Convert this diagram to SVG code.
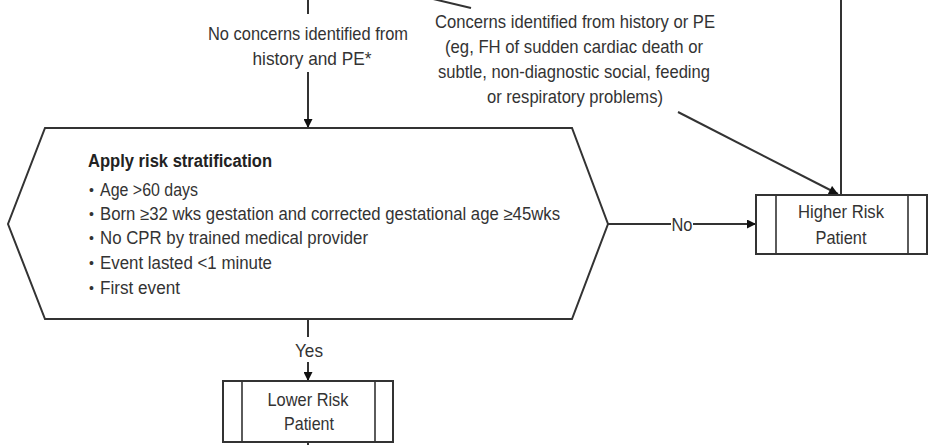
<svg xmlns="http://www.w3.org/2000/svg" width="930" height="445" viewBox="0 0 930 445">
  <style>
    .bg { fill: #ffffff; }
    .shape { fill: #ffffff; stroke: #333333; stroke-width: 2; }
    .inner { stroke: #333333; stroke-width: 1.6; fill: none; }
    .wire { stroke: #333333; stroke-width: 2; fill: none; }
    .txt { font-family: "Liberation Sans", Arial, sans-serif; font-size: 19px; fill: #333333; }
    .mid { text-anchor: middle; }
    .list { font-family: "Liberation Sans", Arial, sans-serif; font-size: 17.5px; fill: #333333; }
    .dot { font-family: "Liberation Sans", Arial, sans-serif; font-size: 14px; fill: #333333; }
    .title { font-weight: bold; fill: #222222; }
  </style>
  <defs>
    <marker id="arrow" viewBox="0 0 10 10" refX="10" refY="5" markerWidth="10" markerHeight="9" markerUnits="userSpaceOnUse" orient="auto">
      <path d="M0,0 L10,5 L0,10 z" fill="#111111"/>
    </marker>
  </defs>

  <rect class="bg" x="0" y="0" width="930" height="445"/>

  <!-- connectors and their labels -->
  <g id="connectors">
    <!-- incoming path: no concerns -->
    <line class="wire" x1="308" y1="0" x2="308" y2="14"/>
    <line class="wire" x1="308" y1="72" x2="308" y2="128" marker-end="url(#arrow)"/>
    <text class="txt mid" x="308" y="40" textLength="200" lengthAdjust="spacingAndGlyphs">No concerns identified from</text>
    <text class="txt mid" x="312" y="65" textLength="119" lengthAdjust="spacingAndGlyphs">history and PE*</text>

    <!-- incoming path: concerns identified -->
    <line class="wire" x1="429" y1="-2" x2="471" y2="8"/>
    <line class="wire" x1="678" y1="112" x2="838" y2="194" marker-end="url(#arrow)"/>
    <text class="txt mid" x="575" y="28" textLength="280" lengthAdjust="spacingAndGlyphs">Concerns identified from history or PE</text>
    <text class="txt mid" x="574" y="53" textLength="258" lengthAdjust="spacingAndGlyphs">(eg, FH of sudden cardiac death or</text>
    <text class="txt mid" x="574" y="78" textLength="272" lengthAdjust="spacingAndGlyphs">subtle, non-diagnostic social, feeding</text>
    <text class="txt mid" x="575" y="103" textLength="176" lengthAdjust="spacingAndGlyphs">or respiratory problems)</text>

    <!-- vertical line down the right side into Higher Risk -->
    <line class="wire" x1="841" y1="0" x2="841" y2="195"/>

    <!-- No branch -->
    <line class="wire" x1="608" y1="224" x2="671" y2="224"/>
    <line class="wire" x1="693" y1="224" x2="756" y2="224" marker-end="url(#arrow)"/>
    <text class="txt mid" x="682" y="231" textLength="21" lengthAdjust="spacingAndGlyphs">No</text>

    <!-- Yes branch -->
    <line class="wire" x1="308" y1="319" x2="308" y2="337"/>
    <line class="wire" x1="308" y1="362" x2="308" y2="381" marker-end="url(#arrow)"/>
    <text class="txt mid" x="309" y="357" textLength="28" lengthAdjust="spacingAndGlyphs">Yes</text>

    <!-- continuation below Lower Risk -->
    <line class="wire" x1="308" y1="442" x2="308" y2="446"/>
  </g>

  <!-- decision: risk stratification -->
  <g id="risk-stratification">
    <polygon class="shape" points="45,128 572,128 608,224 572,319 45,319 8,224"/>
    <text class="list title" x="88" y="167" textLength="184" lengthAdjust="spacingAndGlyphs">Apply risk stratification</text>
    <text class="dot" x="89" y="195">•</text>
    <text class="list" x="100" y="196" textLength="98" lengthAdjust="spacingAndGlyphs">Age &gt;60 days</text>
    <text class="dot" x="89" y="219">•</text>
    <text class="list" x="100" y="220" textLength="460" lengthAdjust="spacingAndGlyphs">Born ≥32 wks gestation and corrected gestational age ≥45wks</text>
    <text class="dot" x="89" y="243">•</text>
    <text class="list" x="100" y="244" textLength="268" lengthAdjust="spacingAndGlyphs">No CPR by trained medical provider</text>
    <text class="dot" x="89" y="268">•</text>
    <text class="list" x="100" y="269" textLength="172" lengthAdjust="spacingAndGlyphs">Event lasted &lt;1 minute</text>
    <text class="dot" x="89" y="293">•</text>
    <text class="list" x="100" y="294" textLength="80" lengthAdjust="spacingAndGlyphs">First event</text>
  </g>

  <!-- outcome: higher risk -->
  <g id="higher-risk">
    <rect class="shape" x="756" y="195" width="171" height="59"/>
    <line class="inner" x1="776" y1="195" x2="776" y2="254"/>
    <line class="inner" x1="908" y1="195" x2="908" y2="254"/>
    <text class="txt mid" x="841" y="218" textLength="86" lengthAdjust="spacingAndGlyphs">Higher Risk</text>
    <text class="txt mid" x="841" y="244" textLength="51" lengthAdjust="spacingAndGlyphs">Patient</text>
  </g>

  <!-- outcome: lower risk -->
  <g id="lower-risk">
    <rect class="shape" x="223" y="381" width="170" height="61"/>
    <line class="inner" x1="242" y1="381" x2="242" y2="442"/>
    <line class="inner" x1="375" y1="381" x2="375" y2="442"/>
    <text class="txt mid" x="308" y="406" textLength="81" lengthAdjust="spacingAndGlyphs">Lower Risk</text>
    <text class="txt mid" x="309" y="430" textLength="50" lengthAdjust="spacingAndGlyphs">Patient</text>
  </g>
</svg>
